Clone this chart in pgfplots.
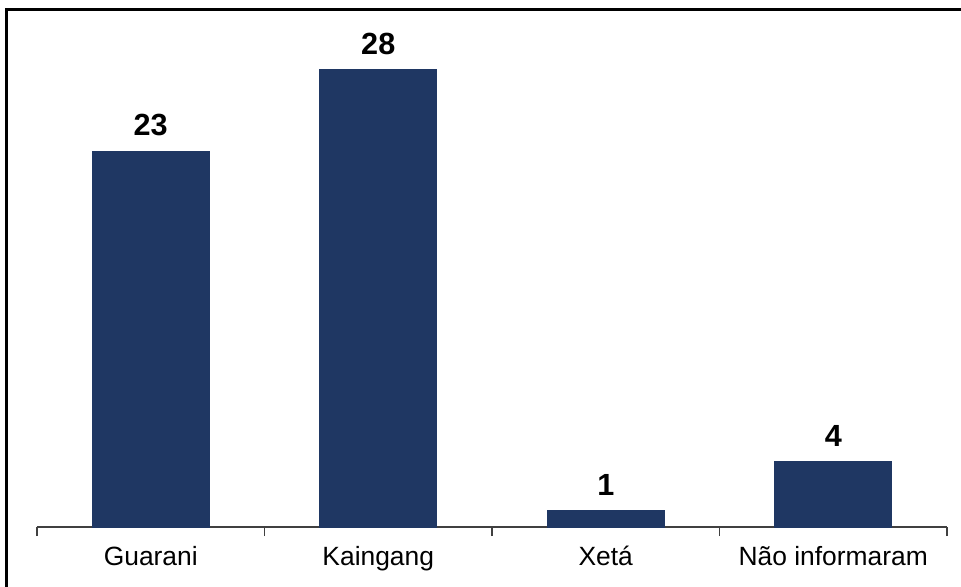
\documentclass[border=0pt]{standalone}
\usepackage{fontspec}
\setmainfont{Liberation Sans}
\usepackage{pgfplots}
\pgfplotsset{compat=1.18}
\definecolor{barblue}{HTML}{1F3763}
\definecolor{axisgray}{HTML}{404040}

\begin{document}
\begin{tikzpicture}
\begin{axis}[
    at={(0,0)}, anchor=south west,
    scale only axis,
    width=455pt, height=245pt,
    xmin=-0.5, xmax=3.5,
    ymin=0, ymax=30,
    axis x line=bottom,
    axis y line=none,
    axis line style={-, axisgray, line width=0.8pt},
    xtick={0,1,2,3},
    xticklabels={Guarani, Kaingang, Xetá, Não informaram},
    major x tick style={draw=none},
    minor xtick={-0.5,0.5,1.5,2.5,3.5},
    minor x tick style={axisgray, line width=0.6pt},
    minor tick length=4.5pt,
    tick align=outside,
    xticklabel style={font=\fontsize{13.2}{15}\selectfont, text height=0.75em, text depth=0.22em, yshift=-4pt},
    ybar,
    bar width=58.5pt,
    nodes near coords,
    every node near coord/.append style={font=\fontsize{15.3}{18}\selectfont\bfseries, yshift=4pt},
    /pgf/number format/assume math mode=true,
    clip=false,
]
\addplot[fill=barblue, draw=barblue] coordinates {(0,23) (1,28) (2,1) (3,4)};
\end{axis}
\draw[line width=1.5pt, black] (-15pt,-60pt) -- (-15pt,259pt) -- (480pt,259pt);
\pgfresetboundingbox
\path[use as bounding box] (-18.5pt,-29.5pt) rectangle (462pt,263.5pt);
\end{tikzpicture}
\end{document}
